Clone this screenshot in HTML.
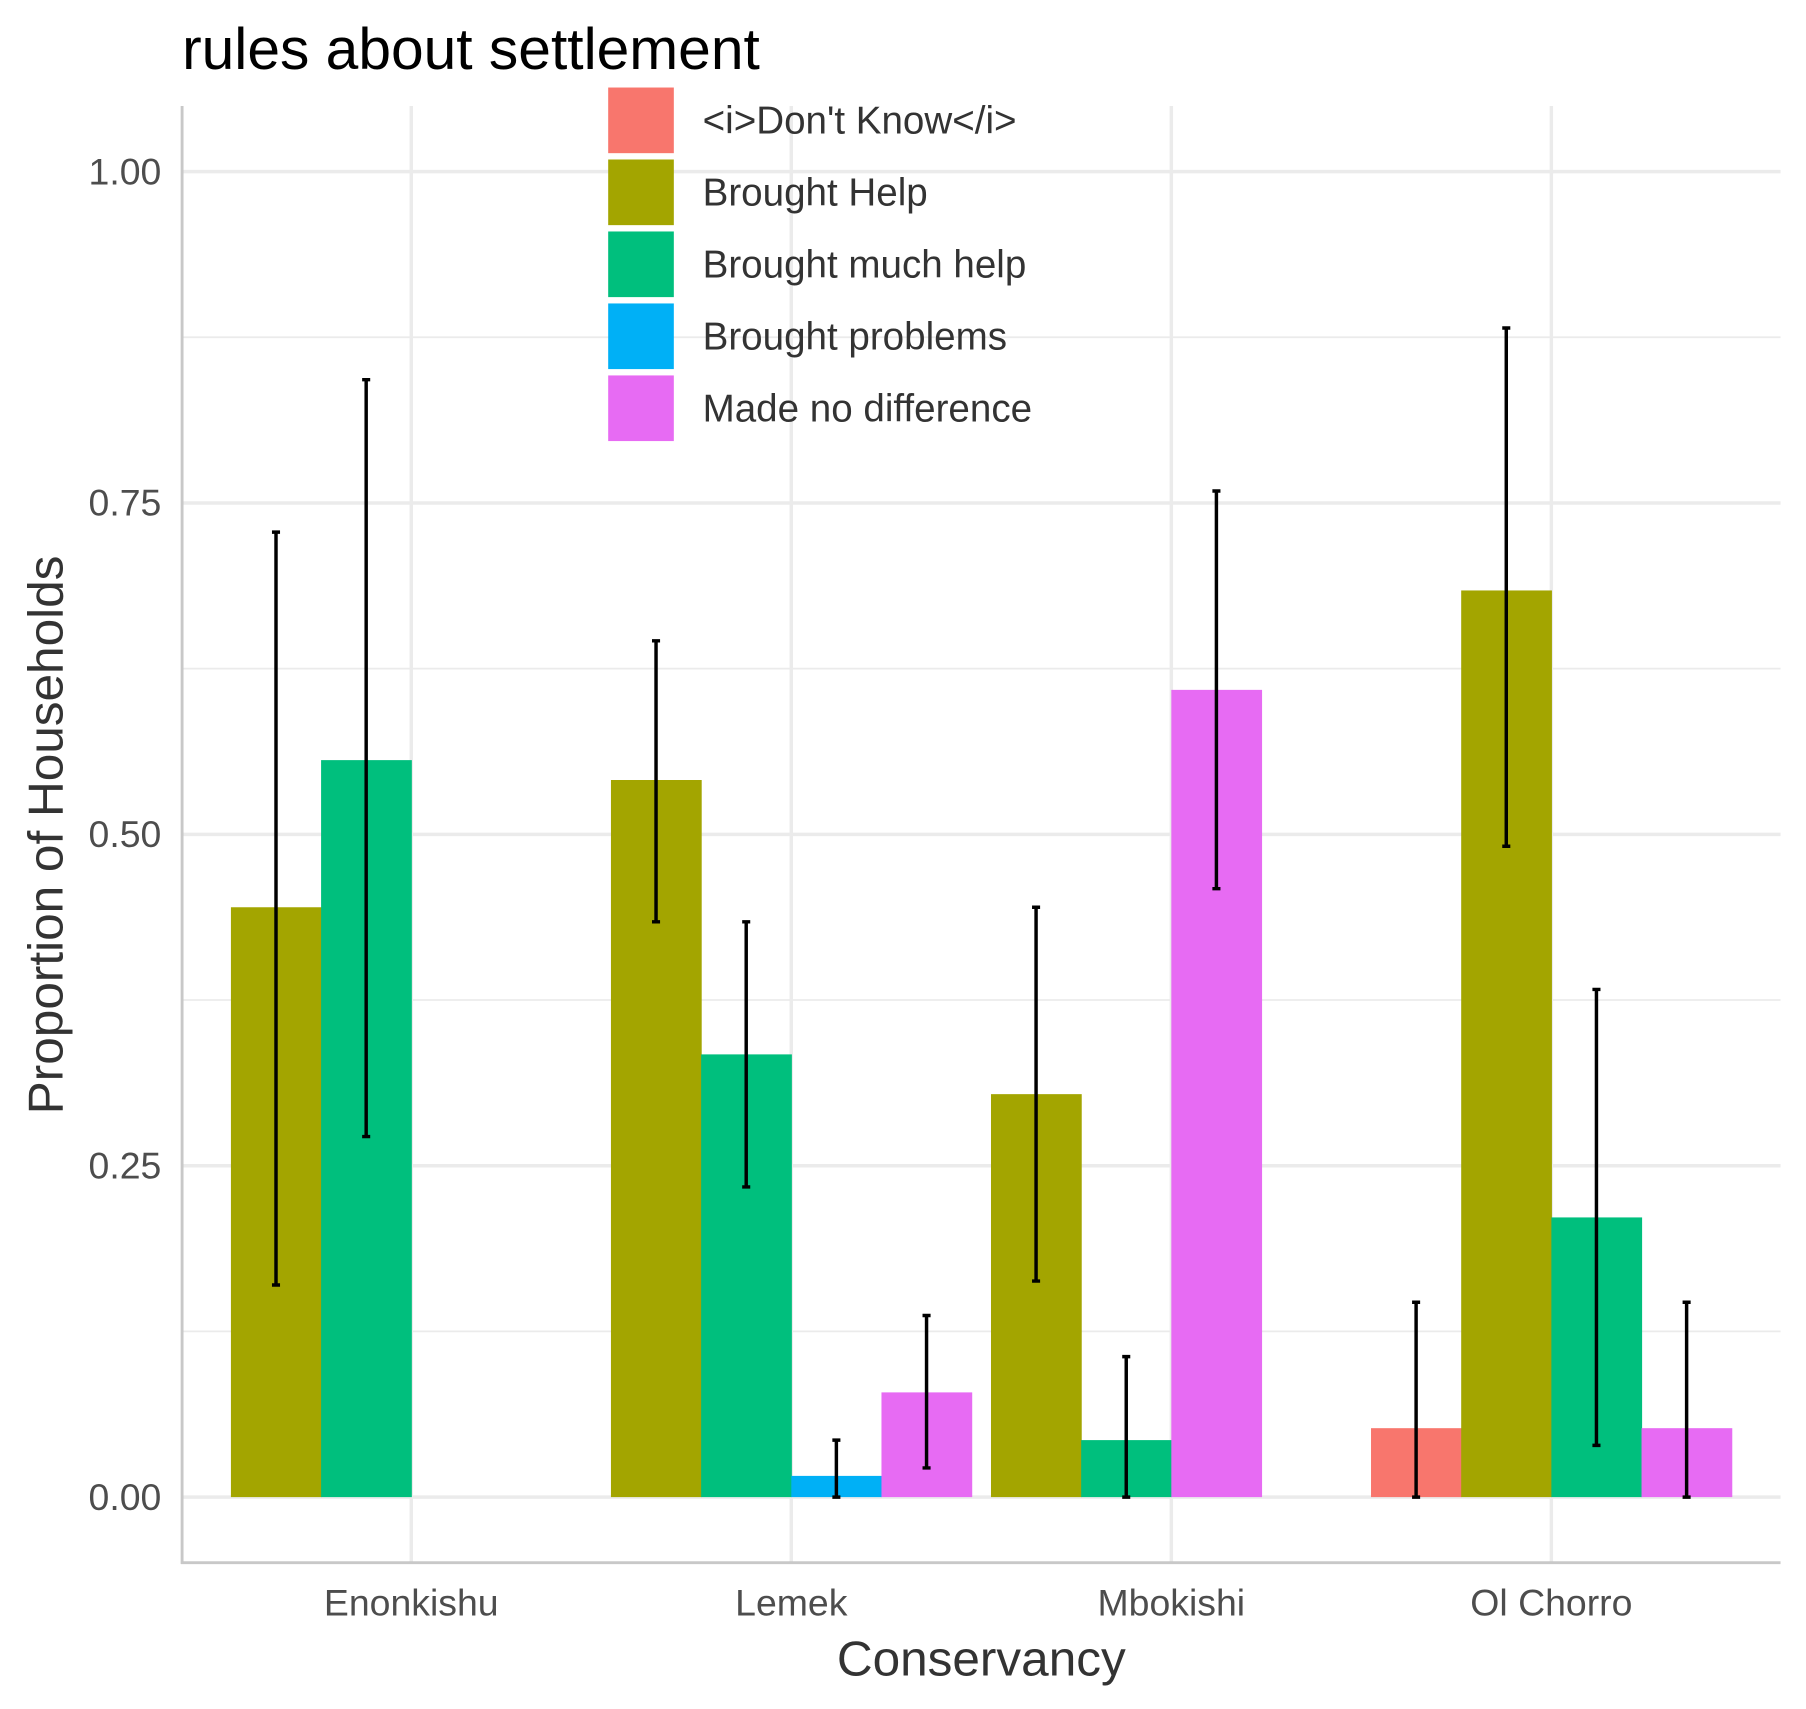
<!DOCTYPE html>
<html><head><meta charset="utf-8"><style>
html,body{margin:0;padding:0;background:#fff}
svg{display:block;font-family:"Liberation Sans",Arial,sans-serif}
</style></head><body>
<svg id="chart" width="1806" height="1709" viewBox="0 0 1568 1484" xmlns="http://www.w3.org/2000/svg">
<text x="158" y="60" font-size="51" fill="#000">rules about settlement</text>
<g id="grid"></g>
<g id="bars"></g>
<g id="errs"></g>
<line x1="158" y1="92" x2="158" y2="1358" stroke="#c8c8c8" stroke-width="2.5"/>
<line x1="157" y1="1357" x2="1546" y2="1357" stroke="#c8c8c8" stroke-width="2.5"/>
<g id="ticks"></g>
<text x="852" y="1455" font-size="43" fill="#333" text-anchor="middle">Conservancy</text>
<text transform="translate(54,725) rotate(-90)" font-size="43" fill="#333" text-anchor="middle">Proportion of Households</text>
<g id="legend"></g>
</svg>
<script>
const categories = ["Enonkishu","Lemek","Mbokishi","Ol Chorro"];
const seriesNames = ["<i>Don't Know</i>","Brought Help","Brought much help","Brought problems","Made no difference"];
const seriesColors = ["#F8766D","#A3A500","#00BF7D","#00B0F6","#E76BF3"];
const catIdx = [0,0,1,1,1,1,2,2,2,3,3,3,3];
const serIdx = [1,2,1,2,3,4,1,2,4,0,1,2,4];
const values = [0.445,0.556,0.541,0.334,0.016,0.079,0.304,0.043,0.609,0.052,0.684,0.211,0.052];
const lows   = [0.160,0.272,0.434,0.234,0.000,0.022,0.163,0.000,0.459,0.000,0.491,0.039,0.000];
const highs  = [0.728,0.843,0.646,0.434,0.043,0.137,0.445,0.106,0.759,0.147,0.882,0.383,0.147];
const yTicks = [0,0.25,0.5,0.75,1];
const yTickLabels = ["0.00","0.25","0.50","0.75","1.00"];

const NS="http://www.w3.org/2000/svg";
const y = v => 1300 - v*1151;
const xc = i => 357 + i*330;
const bw = 78.3;
function mk(tag, attrs, parent){const e=document.createElementNS(NS,tag);for(const k in attrs)e.setAttribute(k,attrs[k]);document.getElementById(parent).appendChild(e);return e;}

for(let v=-0.0; v<=1.0001; v+=0.125){
  const major = Math.abs(v*4-Math.round(v*4))<1e-6;
  const g=mk('line',{x1:158,x2:1546,y1:y(v),y2:y(v),stroke:'#ebebeb','stroke-width':major?3:1.5},'grid');
  
  
}
categories.forEach((c,i)=>{
  const g=mk('line',{x1:xc(i),x2:xc(i),y1:92,y2:1357,stroke:'#ebebeb','stroke-width':3},'grid');
  
  
  const t=mk('text',{x:xc(i),y:1403,'font-size':32.5,fill:'#4d4d4d','text-anchor':'middle'},'ticks');
  t.textContent=c;
  
  
});
yTicks.forEach((v,i)=>{
  const t=mk('text',{x:140,y:y(v)+11,'font-size':32.5,fill:'#4d4d4d','text-anchor':'end'},'ticks');
  t.textContent=yTickLabels[i];
  
  
});

const slot = {};
values.forEach((v,k)=>{
  const c=catIdx[k]; slot[c]=(slot[c]||0);
  const s=slot[c]++;
  const x0 = xc(c) - 2*bw + s*bw;
  const r=mk('rect',{x:x0,y:y(v),width:bw+0.5,height:y(0)-y(v),fill:seriesColors[serIdx[k]]},'bars');
  
  
  const cx=x0+bw/2;
  const e=mk('path',{d:`M${cx-3.5},${y(highs[k])}H${cx+3.5}M${cx},${y(highs[k])}V${y(lows[k])}M${cx-3.5},${y(lows[k])}H${cx+3.5}`,stroke:'#000','stroke-width':3,fill:'none'},'errs');
  
  
});

seriesNames.forEach((n,i)=>{
  const ky=76+i*62.5;
  const r=mk('rect',{x:528,y:ky,width:57,height:57,fill:seriesColors[i]},'legend');
  
  
  const t=mk('text',{x:610,y:ky+40,'font-size':33.5,fill:'#333'},'legend');
  t.textContent=n;
  
  
});
</script>
</body></html>
